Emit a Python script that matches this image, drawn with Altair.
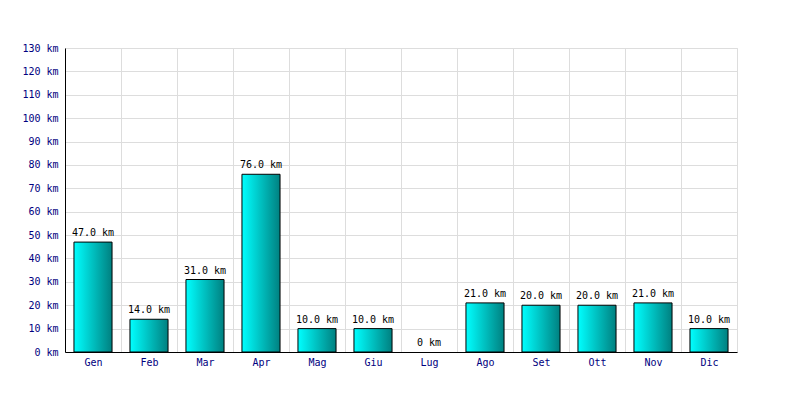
import altair as alt
import pandas as pd

months = ["Gen", "Feb", "Mar", "Apr", "Mag", "Giu", "Lug", "Ago", "Set", "Ott", "Nov", "Dic"]
values = [47.0, 14.0, 31.0, 76.0, 10.0, 10.0, 0.0, 21.0, 20.0, 20.0, 21.0, 10.0]

df = pd.DataFrame({"month": months, "km": values})

FONT = "DejaVu Sans Mono"

x = alt.X("month:N", sort=months, title=None,
          scale=alt.Scale(paddingInner=0, paddingOuter=0),
          axis=alt.Axis(labelAngle=0, tickBand="extent", ticks=False, grid=True,
                        gridColor="#dddddd", domainColor="black", labelColor="#000080",
                        labelFont=FONT, labelFontSize=10, labelPadding=5))
y = alt.Y("km:Q", title=None,
          scale=alt.Scale(domain=[0, 130], nice=False),
          axis=alt.Axis(values=list(range(0, 131, 10)), labelExpr="datum.value + ' km'",
                        ticks=False, gridColor="#dddddd", domainColor="black",
                        labelOverlap=False, labelColor="#000080", labelFont=FONT,
                        labelFontSize=10, labelPadding=7))

grad = alt.Gradient(gradient="linear",
                    stops=[alt.GradientStop(color="#00ffff", offset=0),
                           alt.GradientStop(color="#008080", offset=1)],
                    x1=0, x2=1, y1=0, y2=0)

bars = alt.Chart(df).transform_filter("datum.km > 0").mark_bar(
    color=grad, stroke="black", strokeWidth=1, width=alt.RelativeBandSize(0.68)
).encode(x=x, y=y)

labels = alt.Chart(df).transform_calculate(
    lab="datum.km == 0 ? '0 km' : format(datum.km, '.1f') + ' km'"
).mark_text(font=FONT, fontSize=10, color="black", dy=-9).encode(
    x=x, y=y, text="lab:N")

chart = alt.layer(bars, labels).properties(
    width=672, height=304,
    autosize=alt.AutoSizeParams(type="none"),
    padding={"left": 57, "top": 40, "right": 55, "bottom": 40},
).configure_view(strokeWidth=0).configure(background="white")

chart.save("out.html", embed_options={"renderer": "svg", "actions": False})
